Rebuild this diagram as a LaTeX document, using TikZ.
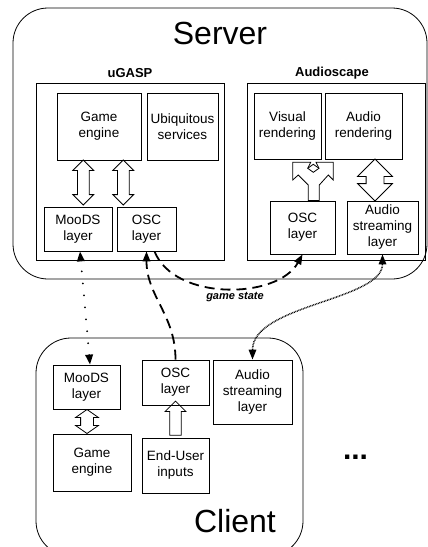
\documentclass[tikz,border=0pt]{standalone}
\usepackage{fontspec}
\setmainfont{Liberation Sans}
\usetikzlibrary{arrows.meta,shapes.arrows}

\tikzset{
  blk/.style={draw, line width=0.8pt, align=center, inner sep=0pt, font=\fontsize{13.5}{16}\selectfont},
  grp/.style={draw, line width=0.8pt, inner sep=0pt},
  shell/.style={draw, line width=0.8pt, rounded corners=35pt, inner sep=0pt},
  bigtext/.style={font=\fontsize{32}{36}\selectfont},
  grplabel/.style={font=\bfseries\fontsize{13}{15}\selectfont},
  dblarr/.style={double arrow, draw, line width=0.8pt, rotate=90, inner xsep=0pt},
  sglarr/.style={single arrow, draw, line width=0.8pt, rotate=90, inner xsep=0pt},
  dashlink/.style={line width=1.8pt, dash pattern=on 10pt off 6pt},
  dotlink/.style={line width=2pt, line cap=round, dash pattern=on 0pt off 12pt},
  finelink/.style={line width=1.5pt, dash pattern=on 0.8pt off 0.8pt},
}

\begin{document}
\begin{tikzpicture}[x=1pt,y=-1pt,>={Triangle[length=10pt,width=7.5pt]}]
\useasboundingbox (0,0) rectangle (428,547);

% server
\node[shell, minimum width=414pt, minimum height=271pt] (server) at (220,143.5) {};
\node[bigtext] (srvname) at (220,33) {Server};

\node[grp, minimum width=188pt, minimum height=177pt] (ugasp) at (130,171.5) {};
\node[grplabel] (ugaspname) at (130,73) {uGASP};
\node[blk, minimum width=84pt, minimum height=67pt] (sgame) at (99,126.5) {Game\\engine};
\node[blk, minimum width=71pt, minimum height=67pt] (ubiq) at (182.5,126.5) {Ubiquitous\\services};
\node[blk, minimum width=68pt, minimum height=44pt] (smoods) at (78,229) {MooDS\\layer};
\node[blk, minimum width=59pt, minimum height=44pt] (sosc) at (146.5,229) {OSC\\layer};
\node[dblarr, minimum height=45pt, inner ysep=5.5pt, double arrow head extend=4.5pt] (sarr1) at (83.3,182.5) {};
\node[dblarr, minimum height=45pt, inner ysep=5.5pt, double arrow head extend=4.5pt] (sarr2) at (123.3,182.5) {};

\node[grp, minimum width=178pt, minimum height=177pt] (ascape) at (336,171.5) {};
\node[grplabel] (ascapename) at (332,73) {Audioscape};
\node[blk, minimum width=67pt, minimum height=66pt] (visual) at (287.5,126) {Visual\\rendering};
\node[blk, minimum width=77pt, minimum height=66pt] (arender) at (363.5,126) {Audio\\rendering};
\node[blk, minimum width=65pt, minimum height=53pt] (aosc) at (302.5,227.5) {OSC\\layer};
\node[blk, minimum width=71pt, minimum height=53pt] (asl) at (382.5,227.5) {Audio\\streaming\\layer};
\node[dblarr, minimum height=42pt, inner ysep=8.5pt, double arrow head extend=8.5pt] (aarr) at (375,180) {};
% fork from OSC to both renderers
\draw[line width=0.8pt] (292.7,162.3) -- (310.7,162.3) -- (307.7,168.3) -- (313.3,172.3) -- (319,168.3)
  -- (316,162.3) -- (333.3,162.3) -- (333.3,180) -- (328.3,175) -- (319.3,185) -- (319.3,200.5)
  -- (308.3,200.5) -- (308.3,185) -- (298.3,175) -- (292.7,180) -- cycle;
\draw[line width=0.8pt] (307.7,168.3) -- (313.3,164.3) -- (319,168.3);

% client
\node[shell, minimum width=267pt, minimum height=218pt] (client) at (169.5,447) {};
\node[bigtext] (cltname) at (235,521.5) {Client};
\node[blk, minimum width=67pt, minimum height=44pt] (cmoods) at (86.5,387) {MooDS\\layer};
\node[blk, minimum width=78pt, minimum height=57pt] (cgame) at (92,462.5) {Game\\engine};
\node[blk, minimum width=67pt, minimum height=45pt] (cosc) at (175.5,382.5) {OSC\\layer};
\node[blk, minimum width=67pt, minimum height=55pt] (cinput) at (175.5,465.5) {End-User\\inputs};
\node[blk, minimum width=79pt, minimum height=64pt] (casl) at (252.5,392) {Audio\\streaming\\layer};
\node[dblarr, minimum height=24pt, inner ysep=6pt, double arrow head extend=5pt, double arrow tip angle=110] (carr) at (87,421.5) {};
\node[sglarr, minimum height=34pt, inner ysep=5.3pt, single arrow head extend=4.7pt] (cin) at (175.5,421) {};
\node[font=\bfseries\fontsize{30}{30}\selectfont] (more) at (355.5,457) {...};

% links
\draw[dotlink, <->] ([xshift=3.5pt]cmoods.north) -- ([xshift=2pt]smoods.south);
\draw[dashlink, ->] (cosc.north) .. controls +(0,-45) and +(0,45) .. (sosc.south);
\draw[dashlink, ->] ([xshift=8pt]sosc.south) .. controls +(20,50) and +(-25,45) .. (aosc.south);
\node[font=\bfseries\itshape\fontsize{11}{13}\selectfont] (gstate) at (235,297) {game state};
\draw[finelink, <->] (asl.south) .. controls +(0,46) and +(0,-55) .. (casl.north);
\end{tikzpicture}
\end{document}
